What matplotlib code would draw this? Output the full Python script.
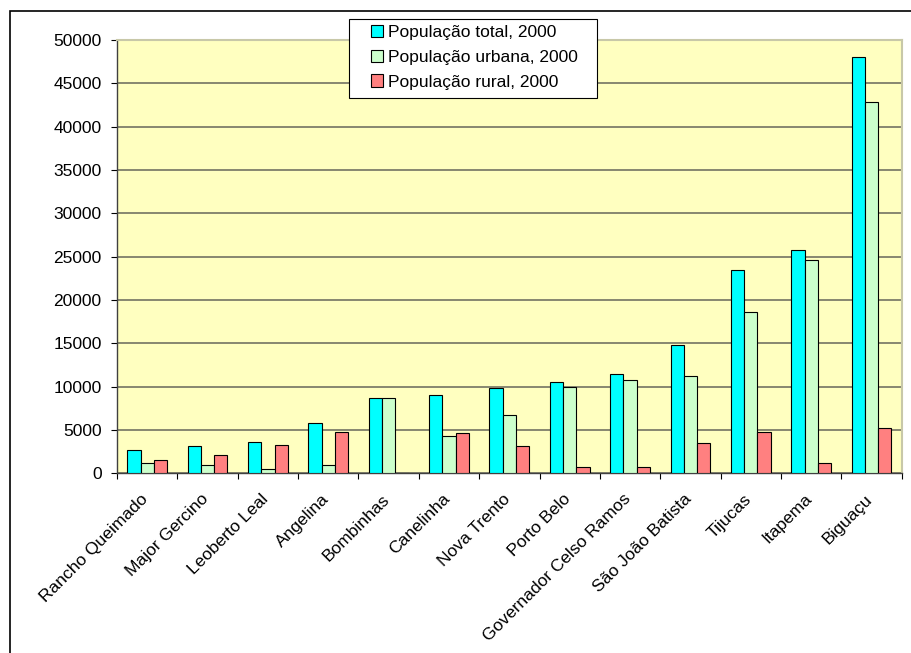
import matplotlib.pyplot as plt
import matplotlib.transforms as mtransforms
import numpy as np
from matplotlib.patches import Rectangle

plt.rcParams["font.family"] = ["Liberation Sans", "DejaVu Sans"]

# ---------------------------------------------------------------------------
# Data
# ---------------------------------------------------------------------------

municipios = [
    "Rancho Queimado", "Major Gercino", "Leoberto Leal", "Angelina",
    "Bombinhas", "Canelinha", "Nova Trento", "Porto Belo",
    "Governador Celso Ramos", "São João Batista", "Tijucas", "Itapema",
    "Biguaçu",
]
pop_total = [2700, 3150, 3650, 5770, 8730, 9000, 9850, 10580, 11450, 14750, 23420, 25800, 48000]
pop_urbana = [1150, 1000, 460, 1000, 8700, 4270, 6670, 9950, 10720, 11190, 18580, 24650, 42860]
pop_rural = [1500, 2100, 3230, 4770, 0, 4650, 3140, 690, 690, 3490, 4750, 1150, 5170]

series_labels = ["População total, 2000", "População urbana, 2000", "População rural, 2000"]
series_colors = ["#00FFFF", "#CCFFCC", "#FF8080"]

yticks = list(range(0, 50001, 5000))

FS = 12.5
W, H = 912, 653

# ---------------------------------------------------------------------------
# Plot
# ---------------------------------------------------------------------------

fig = plt.figure(figsize=(W / 100, H / 100), dpi=100)
ax = fig.add_axes([117 / W, 1 - 473.3 / H, (901.7 - 117) / W, (473.3 - 40) / H])
ax.set_facecolor("#FFFFC0")

x = np.arange(len(municipios))
width = 0.22
for k, (vals, lab, col) in enumerate(zip([pop_total, pop_urbana, pop_rural], series_labels, series_colors)):
    ax.bar(x + (k - 1) * width, vals, width, color=col, edgecolor="black",
           linewidth=0.8, label=lab, zorder=3)

ax.set_xlim(-0.5, len(municipios) - 0.5)
ax.set_ylim(0, 50000)
ax.set_yticks(yticks)
ax.set_yticklabels([str(v) for v in yticks], fontsize=FS)
ax.yaxis.grid(True, color="#737363", linewidth=1.2, zorder=1)
ax.tick_params(axis="y", direction="out", length=4, width=0.8, pad=7)

# category labels at centres, tick marks at boundaries
ax.set_xticks(x)
ax.set_xticklabels(municipios, rotation=45, ha="right", va="top",
                   rotation_mode="anchor", fontsize=FS)
ax.tick_params(axis="x", which="major", length=0, pad=13)
shift = mtransforms.ScaledTranslation(-7 / 100, 0, fig.dpi_scale_trans)
for lbl in ax.get_xticklabels():
    lbl.set_transform(lbl.get_transform() + shift)
ax.set_xticks(np.arange(-0.5, len(municipios)), minor=True)
ax.tick_params(axis="x", which="minor", direction="out", length=4, width=0.8)

for s in ["left", "bottom"]:
    ax.spines[s].set_color("#404040")
    ax.spines[s].set_linewidth(1.0)
for s in ["top", "right"]:
    ax.spines[s].set_color("#C8C8A8")
    ax.spines[s].set_linewidth(1.5)

# legend box (Excel style: wide frame, entries inset)
fig.patches.append(Rectangle((349 / W, 1 - 98.3 / H), (597 - 349) / W, (98.3 - 19.3) / H,
                             transform=fig.transFigure, facecolor="white",
                             edgecolor="black", linewidth=0.8, zorder=5))
leg = fig.legend(loc="upper left", bbox_to_anchor=(371 / W, 1 - 25 / H),
                 fontsize=FS, frameon=False, handlelength=0.7, handleheight=0.7,
                 handletextpad=0.3, labelspacing=0.55, borderpad=0,
                 borderaxespad=0)
leg.set_zorder(10)

# outer chart border
fig.patches.append(Rectangle((10 / W, -0.1), 1.2, 1 - 11 / H + 0.1,
                             transform=fig.transFigure, fill=False,
                             edgecolor="black", linewidth=1.2, zorder=0))

fig.savefig("out.png", dpi=100)
